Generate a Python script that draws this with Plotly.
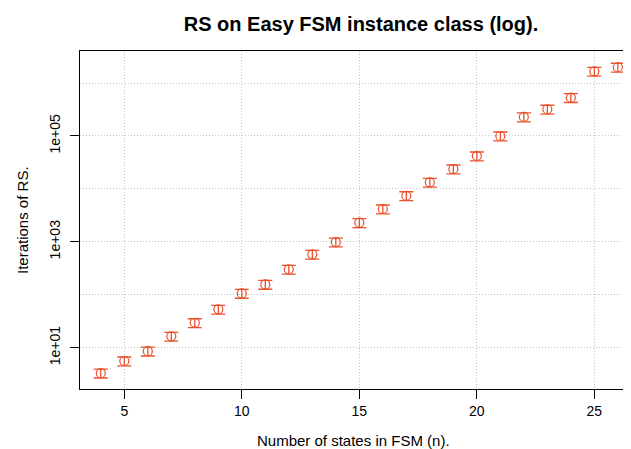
import plotly.graph_objects as go

n_states = [4, 5, 6, 7, 8, 9, 10, 11, 12, 13, 14, 15, 16, 17, 18, 19, 20, 21, 22, 23, 24, 25, 26]
iterations = [3.3, 5.6, 8.6, 16.4, 29.6, 53, 106, 157, 302, 581, 990, 2300, 4170, 7430,
              13300, 23800, 41900, 100000, 229000, 320000, 530000, 1670000, 1990000]
err_pct = 19
x_ticks = [5, 10, 15, 20, 25]
y_ticks = [10, 1000, 100000]
y_ticktext = ["1e+01", "1e+03", "1e+05"]
y_minor = [1, 100, 10000, 1000000]

col = "#E8522D"
grid = "#c4c4c4"
font = "Liberation Sans, Arial, Helvetica, sans-serif"

# page has an 8px body margin: figure is sized/positioned to compensate
W, H = 623, 441
L, T, B = 72, 43, 60

fig = go.Figure()
fig.add_trace(go.Scatter(
    x=n_states, y=iterations, mode="markers",
    marker=dict(symbol="circle-open", size=9, color=col, line=dict(width=1.2, color=col)),
    error_y=dict(type="percent", value=err_pct, color=col, thickness=1.3, width=7),
    showlegend=False,
))

fig.update_layout(
    width=W, height=H,
    margin=dict(l=L, r=0, t=T, b=B),
    paper_bgcolor="white", plot_bgcolor="white",
    font=dict(family=font, color="black", size=13),
    title=dict(text="<b>RS on Easy FSM instance class (log).</b>", x=(361 - 8) / W, xref="container",
               xanchor="center", y=1 - 16 / H, yref="container", yanchor="middle",
               font=dict(size=20, family=font, color="black")),
    xaxis=dict(range=[3.115, 26.56], tickvals=x_ticks, ticks="outside", ticklen=9,
               tickcolor="black", showline=True, linecolor="black", linewidth=1, mirror=True,
               showgrid=True, gridcolor=grid, griddash="1px,2px", gridwidth=1, zeroline=False,
               tickfont=dict(size=14)),
    yaxis=dict(type="log", range=[0.219, 6.606], tickvals=y_ticks, ticktext=y_ticktext,
               tickangle=-90, ticks="outside", ticklen=9, tickcolor="black",
               showline=True, linecolor="black", linewidth=1, mirror=False,
               showgrid=True, gridcolor=grid, griddash="1px,2px", gridwidth=1, zeroline=False,
               ticklabelstandoff=4, tickfont=dict(size=14),
               minor=dict(tickvals=y_minor, showgrid=True, gridcolor=grid, griddash="1px,2px",
                          gridwidth=1, ticks="")),
    annotations=[
        dict(text="Number of states in FSM (n).", xref="paper", yref="paper",
             x=(353 - 80) / 551, y=-(440 - 389) / 338, xanchor="center", yanchor="middle",
             showarrow=False, font=dict(size=15, family=font, color="black")),
        dict(text="Iterations of RS.", xref="paper", yref="paper",
             x=(22 - 80) / 551, y=0.5, xanchor="center", yanchor="middle", textangle=-90,
             showarrow=False, font=dict(size=15, family=font, color="black")),
    ],
)

fig.write_html("out.html")
